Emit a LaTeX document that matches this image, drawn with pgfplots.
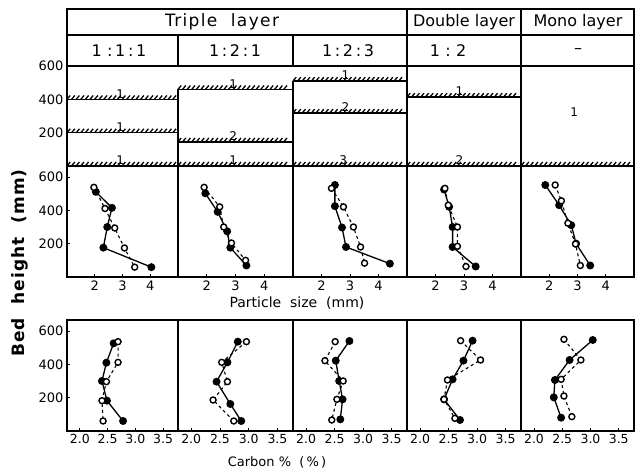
\documentclass[border=0pt]{standalone}
\usepackage{pgfplots}
\pgfplotsset{compat=1.18}
\usepackage{fontspec}
\setmainfont{DejaVu Sans}
\usetikzlibrary{decorations.pathreplacing}

\pgfplotsset{
  panel/.style={scale only axis, height=111pt, ymin=0, ymax=666, anchor=south west,
    axis line style={line width=1.3pt}, tick pos=left,
    major tick length=3pt, tick style={black, line width=0.8pt},
    ytick=\empty,
    tick label style={font=\fontsize{13}{13}\selectfont},
    /pgf/number format/assume math mode=true},
  first/.style={ytick={200,400,600}},
  mid/.style={panel, xmin=1, xmax=5, xtick={2,3,4}},
  bot/.style={panel, xmin=1.77, xmax=3.77, xtick={2,2.5,3,3.5},
    xticklabel style={font=\fontsize{12.5}{12.5}\selectfont,
      /pgf/number format/.cd, fixed, fixed zerofill, precision=1}},
  schem/.style={scale only axis, height=100pt, ymin=0, ymax=600, xmin=0, xmax=1,
    anchor=south west, clip=false, axis line style={draw=none},
    xtick=\empty, ytick=\empty, tick style={draw=none},
    tick label style={font=\fontsize{13}{13}\selectfont},
    /pgf/number format/assume math mode=true},
  filled/.style={black, line width=1.3pt, mark=*, mark size=3.3pt},
  open/.style={black, line width=1.1pt, dashed, mark=*, mark size=3pt,
    mark options={solid, fill=white, line width=1.4pt}},
  hatch/.style={black, line width=1.5pt, mark=none,
    postaction={draw, line width=1.3pt, decorate,
      decoration={border, segment length=4.6pt, amplitude=5pt, angle=50}}},
}
\newcommand{\lab}[2]{\node[anchor=south, inner sep=0.5pt, font=\fontsize{12}{12}\selectfont] at (axis cs:#1) {#2};}

\begin{document}
\begin{tikzpicture}
\path[use as bounding box] (0,0) rectangle (638pt,-470pt);

% header frame
\draw[line width=1.3pt] (67pt,-9pt) rectangle (634pt,-277pt);
\draw[line width=1.1pt] (67pt,-35pt) -- (634pt,-35pt);
\draw[line width=1.1pt] (67pt,-66pt) -- (634pt,-66pt);
\draw[line width=1.1pt] (407pt,-9pt) -- (407pt,-166pt);
\draw[line width=1.1pt] (521pt,-9pt) -- (521pt,-166pt);
\draw[line width=1.1pt] (178pt,-35pt) -- (178pt,-66pt);
\draw[line width=1.1pt] (293pt,-35pt) -- (293pt,-66pt);
\draw[line width=1.1pt] (178pt,-89pt) -- (178pt,-166pt);
\draw[line width=1.1pt] (293pt,-81pt) -- (293pt,-166pt);

\node[font=\fontsize{17}{17}\selectfont\addfontfeature{LetterSpace=8}] at (222pt,-22pt) {Triple\ \ layer};
\node[font=\fontsize{16}{16}\selectfont] at (464pt,-22pt) {Double layer};
\node[font=\fontsize{16}{16}\selectfont] at (578pt,-22pt) {Mono layer};
\node[font=\fontsize{16}{16}\selectfont] at (119pt,-51pt) {1\,\,:\,1\,:\,1};
\node[font=\fontsize{16}{16}\selectfont] at (235pt,-51pt) {1\,:\,2\,:\,1};
\node[font=\fontsize{16}{16}\selectfont] at (348pt,-51pt) {1\,:\,2\,:\,3};
\node[font=\fontsize{16}{16}\selectfont] at (448pt,-51pt) {1\,\,:\,\,2};
\node[font=\fontsize{16}{16}\selectfont] at (578pt,-51pt) {--};

% bed schematics
\begin{axis}[schem, at={(67pt,-166pt)}, width=111pt, ytick={200,400,600}]
\addplot[hatch] coordinates {(0,400)(1,400)};
\addplot[hatch] coordinates {(0,200)(1,200)};
\addplot[hatch] coordinates {(0,1)(1,1)};
\lab{0.48,402}{1} \lab{0.48,202}{1} \lab{0.48,3}{1}
\end{axis}
\begin{axis}[schem, at={(178pt,-166pt)}, width=115pt]
\addplot[hatch] coordinates {(0,460)(1,460)};
\addplot[hatch] coordinates {(0,145)(1,145)};
\addplot[hatch] coordinates {(0,1)(1,1)};
\lab{0.48,462}{1} \lab{0.48,147}{2} \lab{0.48,3}{1}
\end{axis}
\begin{axis}[schem, at={(293pt,-166pt)}, width=114pt]
\addplot[hatch] coordinates {(0,510)(1,510)};
\addplot[hatch] coordinates {(0,318)(1,318)};
\addplot[hatch] coordinates {(0,1)(1,1)};
\lab{0.46,512}{1} \lab{0.46,320}{2} \lab{0.44,3}{3}
\end{axis}
\begin{axis}[schem, at={(407pt,-166pt)}, width=114pt]
\addplot[hatch] coordinates {(0,414)(1,414)};
\addplot[hatch] coordinates {(0,1)(1,1)};
\lab{0.46,416}{1} \lab{0.46,3}{2}
\end{axis}
\begin{axis}[schem, at={(521pt,-166pt)}, width=113pt]
\addplot[hatch] coordinates {(0,1)(1,1)};
\node[font=\fontsize{12}{12}\selectfont] at (axis cs:0.47,325) {1};
\end{axis}

% particle size panels
\begin{axis}[mid, first, at={(67pt,-277pt)}, width=111pt]
\addplot[filled] coordinates {(2.04,511)(2.62,415)(2.45,300)(2.31,176)(4.04,59)};
\addplot[open] coordinates {(1.97,538)(2.37,411)(2.72,294)(3.07,174)(3.44,59)};
\end{axis}
\begin{axis}[mid, at={(178pt,-277pt)}, width=115pt]
\addplot[filled] coordinates {(1.95,502)(2.38,391)(2.71,274)(2.82,176)(3.38,69)};
\addplot[open] coordinates {(1.91,538)(2.45,421)(2.59,300)(2.86,204)(3.35,100)};
\end{axis}
\begin{axis}[mid, at={(293pt,-277pt)}, width=114pt]
\addplot[filled] coordinates {(2.47,552)(2.47,425)(2.72,297)(2.86,180)(4.40,80)};
\addplot[open] coordinates {(2.35,532)(2.77,421)(3.12,300)(3.37,180)(3.51,83)};
\end{axis}
\begin{axis}[mid, at={(407pt,-277pt)}, width=114pt]
\addplot[filled] coordinates {(2.30,525)(2.48,421)(2.60,300)(2.60,180)(3.41,63)};
\addplot[open] coordinates {(2.33,532)(2.45,431)(2.77,300)(2.77,184)(3.07,63)};
\end{axis}
\begin{axis}[mid, at={(521pt,-277pt)}, width=113pt]
\addplot[filled] coordinates {(1.86,552)(2.35,431)(2.78,311)(2.95,200)(3.45,69)};
\addplot[open] coordinates {(2.21,552)(2.43,457)(2.66,323)(2.93,198)(3.10,69)};
\end{axis}

% carbon panels
\begin{axis}[bot, first, at={(67pt,-431pt)}, width=111pt]
\addplot[filled] coordinates {(2.61,526)(2.48,410)(2.40,300)(2.49,182)(2.78,60)};
\addplot[open] coordinates {(2.69,536)(2.69,412)(2.48,296)(2.40,182)(2.42,60)};
\end{axis}
\begin{axis}[bot, at={(178pt,-431pt)}, width=115pt]
\addplot[filled] coordinates {(2.81,536)(2.63,412)(2.44,296)(2.68,162)(2.87,60)};
\addplot[open] coordinates {(2.96,536)(2.53,412)(2.63,296)(2.38,186)(2.74,60)};
\end{axis}
\begin{axis}[bot, at={(293pt,-431pt)}, width=114pt]
\addplot[filled] coordinates {(2.76,540)(2.52,422)(2.58,300)(2.64,190)(2.60,70)};
\addplot[open] coordinates {(2.51,536)(2.33,422)(2.65,300)(2.54,190)(2.45,66)};
\end{axis}
\begin{axis}[bot, at={(407pt,-431pt)}, width=114pt]
\addplot[filled] coordinates {(2.92,542)(2.76,422)(2.57,310)(2.42,190)(2.70,66)};
\addplot[open] coordinates {(2.71,542)(3.06,426)(2.48,306)(2.42,190)(2.61,76)};
\end{axis}
\begin{axis}[bot, at={(521pt,-431pt)}, width=113pt]
\addplot[filled] coordinates {(3.04,546)(2.63,426)(2.37,306)(2.35,202)(2.48,80)};
\addplot[open] coordinates {(2.53,550)(2.83,426)(2.48,310)(2.53,210)(2.67,86)};
\end{axis}

% axis titles
\node[rotate=90, font=\fontsize{17}{17}\selectfont\bfseries\addfontfeature{LetterSpace=6}] at (20pt,-263pt) {Bed\ \ height\ \ (mm)};
\node[font=\fontsize{14}{14}\selectfont] at (297pt,-303pt) {Particle\ \ size\ \ (mm)};
\node[font=\fontsize{13}{13}\selectfont] at (277pt,-462pt) {Carbon \%\ \ (\,\%\,)};
\end{tikzpicture}
\end{document}
